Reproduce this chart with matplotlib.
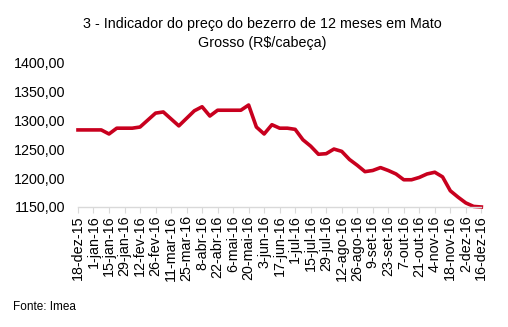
import numpy as np
import matplotlib.pyplot as plt

plt.rcParams['font.family'] = ['Liberation Sans', 'DejaVu Sans']

# weekly price, 18-dez-15 to 16-dez-16
precos = [1283, 1283, 1283, 1283, 1276, 1286, 1286, 1286, 1288, 1300,
          1312, 1314, 1302, 1290, 1303, 1316, 1323, 1307, 1317, 1317,
          1317, 1317, 1326, 1288, 1276, 1292, 1286, 1286, 1284, 1266,
          1255, 1241, 1242, 1250, 1246, 1232, 1222, 1211, 1213, 1218,
          1213, 1207, 1197, 1197, 1201, 1207, 1210, 1202, 1178, 1167,
          1157, 1151, 1150]

rotulos = ['18-dez-15', '1-jan-16', '15-jan-16', '29-jan-16', '12-fev-16',
           '26-fev-16', '11-mar-16', '25-mar-16', '8-abr-16', '22-abr-16',
           '6-mai-16', '20-mai-16', '3-jun-16', '17-jun-16', '1-jul-16',
           '15-jul-16', '29-jul-16', '12-ago-16', '26-ago-16', '9-set-16',
           '23-set-16', '7-out-16', '21-out-16', '4-nov-16', '18-nov-16',
           '2-dez-16', '16-dez-16']

yticks = [1150, 1200, 1250, 1300, 1350, 1400]

fig = plt.figure(figsize=(5.08, 3.27), dpi=100)
ax = fig.add_axes([0.1535, 0.367, 0.794, 0.443])

x = np.arange(len(precos))
ax.plot(x, precos, color='#c8001e', lw=2.6, solid_joinstyle='round', clip_on=False)

ax.set_xlim(0, len(precos) - 1)
ax.set_ylim(1150, 1400)
ax.set_yticks(yticks)
ax.set_yticklabels([f'{v},00' for v in yticks], fontsize=10.3)
ax.set_xticks(np.arange(0, len(precos), 2))
ax.set_xticklabels(rotulos, rotation=90, fontsize=10.3)

for s in ['top', 'right', 'left']:
    ax.spines[s].set_visible(False)
ax.spines['bottom'].set_color('#d9d9d9')
ax.spines['bottom'].set_linewidth(1.0)
ax.tick_params(axis='y', length=0, pad=9)
ax.tick_params(axis='x', length=4, color='#d9d9d9', pad=2)

fig.text(0.516, 0.897, '3 - Indicador do preço do bezerro de 12 meses em Mato\nGrosso (R$/cabeça)',
         ha='center', va='center', fontsize=10.3, linespacing=1.4)
fig.text(0.025, 0.062, 'Fonte: Imea', fontsize=8.5, va='center')

fig.savefig('out.png', dpi=100)
